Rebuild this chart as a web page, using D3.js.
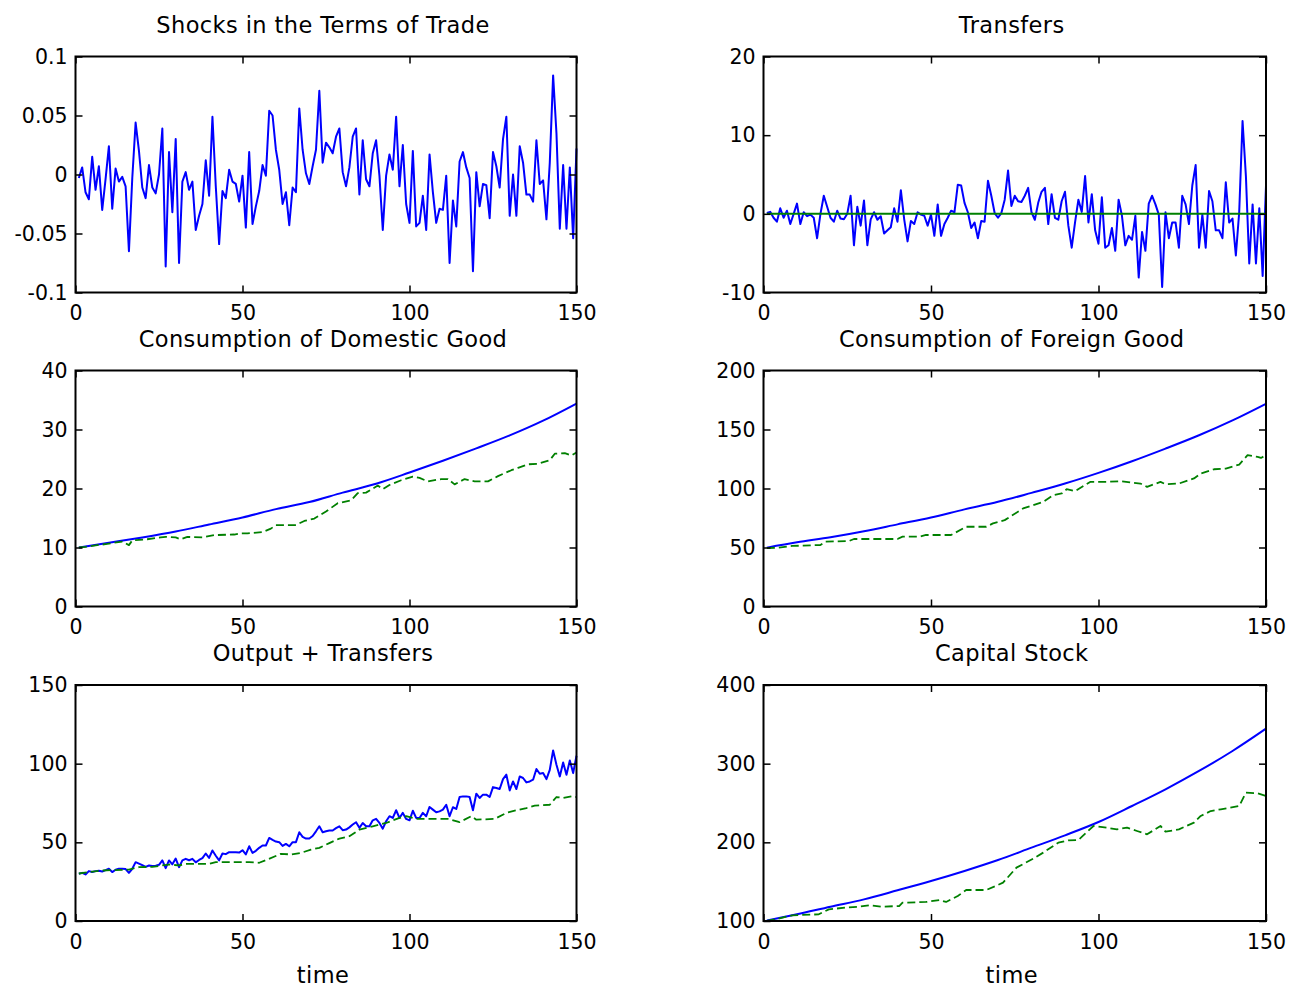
<!DOCTYPE html>
<html lang="en">
<head>
<meta charset="UTF-8">
<title>Terms of trade simulation</title>
<script src="https://cdnjs.cloudflare.com/ajax/libs/d3/7.8.5/d3.min.js"></script>
<style>
body{margin:0;background:#fff;}
svg text{font-family:"DejaVu Sans",sans-serif;fill:#000;}
.axis text{font-size:20.5px;}
.title, .xlabel{font-size:22.5px;letter-spacing:0.4px;}
.axis line{stroke:#000;stroke-width:1.5px;}
</style>
</head>
<body>
<svg id="chart" width="1291" height="990"></svg>
<script>
// shared x axis
var xTicks = [0, 50, 100, 150];
var xTickLabels = ['0', '50', '100', '150'];

// noisy series, one value per period t = 1..150
var shocks = [
  -0.003, 0.006, -0.015, -0.021, 0.015, -0.013, 0.007, -0.030, -0.004, 0.024,
  -0.029, 0.005, -0.006, -0.002, -0.010, -0.065, -0.003, 0.044, 0.020, -0.011,
  -0.020, 0.008, -0.011, -0.016, 0.000, 0.039, -0.078, 0.019, -0.032, 0.030,
  -0.075, -0.006, 0.002, -0.013, -0.006, -0.047, -0.035, -0.025, 0.012, -0.018,
  0.049, -0.010, -0.059, -0.014, -0.020, 0.004, -0.006, -0.008, -0.023, -0.001,
  -0.045, 0.019, -0.042, -0.027, -0.014, 0.008, -0.001, 0.054, 0.050, 0.021,
  0.004, -0.025, -0.015, -0.043, -0.011, -0.015, 0.056, 0.021, 0.001, -0.008,
  0.007, 0.021, 0.071, 0.010, 0.027, 0.023, 0.018, 0.032, 0.039, 0.002,
  -0.010, 0.006, 0.032, 0.039, -0.017, 0.029, -0.004, -0.010, 0.018, 0.029,
  -0.001, -0.047, -0.001, 0.017, 0.004, 0.049, -0.010, 0.025, -0.025, -0.041,
  0.020, -0.044, -0.041, -0.018, -0.047, 0.017, -0.015, -0.041, -0.029, -0.030,
  -0.001, -0.075, -0.022, -0.044, 0.011, 0.019, 0.006, -0.003, -0.082, 0.002,
  -0.027, -0.008, -0.009, -0.037, 0.019, 0.007, -0.011, 0.030, 0.049, -0.035,
  0.000, -0.035, 0.024, 0.010, -0.017, -0.017, -0.023, 0.029, -0.008, -0.005,
  -0.038, 0.010, 0.084, 0.035, -0.046, 0.008, -0.046, 0.006, -0.054, 0.022
];
var transfers = [
  0.1, 0.25, -0.5, -1.0, 0.7, -0.5, 0.4, -1.3, 0.0, 1.3,
  -1.3, 0.2, -0.3, -0.1, -0.5, -3.1, 0.0, 2.3, 0.9, -0.5,
  -1.0, 0.4, -0.6, -0.7, 0.0, 2.3, -4.0, 0.9, -1.5, 1.7,
  -4.0, -0.7, 0.2, -0.75, -0.3, -2.5, -2.1, -1.7, 0.7, -1.0,
  3.0, -0.7, -3.5, -0.9, -1.3, 0.2, -0.1, -0.25, -1.5, -0.1,
  -2.8, 1.2, -2.8, -1.3, -0.5, 0.4, 0.2, 3.7, 3.6, 1.4,
  0.2, -1.8, -1.1, -3.1, -0.9, -1.0, 4.2, 2.3, 0.1, -0.5,
  0.1, 1.8, 5.5, 1.0, 2.3, 1.6, 1.5, 2.3, 3.3, 0.2,
  -0.75, 1.4, 2.8, 3.3, -1.3, 2.5, -0.5, -0.75, 1.6, 2.8,
  -1.5, -4.3, -1.1, 1.8, 0.25, 4.8, -1.1, 2.5, -2.1, -3.8,
  2.1, -4.3, -4.0, -1.8, -4.7, 1.8, -0.25, -4.0, -2.8, -3.3,
  -0.25, -8.1, -2.3, -4.7, 1.3, 2.3, 1.2, -0.1, -9.3, 0.2,
  -3.1, -1.1, -1.1, -4.3, 2.3, 1.2, -1.3, 3.6, 6.2, -4.3,
  -0.1, -4.3, 2.9, 1.6, -2.1, -2.1, -3.1, 4.0, -1.1, -0.6,
  -5.3, 0.2, 11.8, 4.8, -6.3, 1.2, -6.3, 0.7, -7.9, 3.6
];
var outputTransfers = [
  30.0, 30.6, 29.6, 31.7, 31.1, 31.7, 32.0, 31.5, 32.3, 33.2,
  31.1, 32.6, 33.2, 33.2, 33.0, 30.6, 33.2, 37.4, 36.5, 35.5,
  34.4, 35.3, 34.9, 35.2, 35.7, 38.5, 33.6, 38.5, 36.0, 39.7,
  34.2, 38.5, 39.5, 38.6, 39.5, 37.3, 38.8, 40.0, 42.9, 40.1,
  44.8, 41.5, 38.5, 42.9, 42.5, 43.7, 43.7, 43.7, 43.5, 45.0,
  42.3, 47.5, 43.3, 44.6, 46.5, 48.0, 48.0, 52.8, 51.6, 50.5,
  50.1, 47.7, 49.0, 47.5, 50.1, 50.1, 56.4, 53.5, 52.4, 52.4,
  54.0, 57.0, 60.2, 56.4, 57.0, 57.5, 57.5, 59.0, 60.2, 57.7,
  58.1, 59.5, 61.3, 62.8, 59.2, 62.3, 60.2, 60.2, 64.0, 64.9,
  62.3, 58.7, 63.4, 66.6, 65.5, 70.4, 65.5, 68.7, 64.9, 64.0,
  70.1, 65.5, 65.5, 68.7, 66.6, 72.5, 70.8, 69.1, 69.7, 70.8,
  73.9, 66.6, 72.3, 71.2, 78.8, 79.2, 79.2, 78.8, 70.4, 80.9,
  78.2, 80.3, 80.3, 78.8, 85.1, 84.5, 83.9, 90.2, 93.0, 83.0,
  88.7, 83.9, 91.9, 90.9, 88.1, 88.7, 89.8, 96.6, 93.6, 94.0,
  90.2, 96.1, 108.4, 99.3, 91.9, 100.8, 93.0, 102.0, 94.0, 105.0
];
var periods = d3.range(1, 151);

// zero reference line in the transfers panel
var zeroT = [1, 150];
var zeroLine = [0, 0];

// smooth paths, read every 10 periods
var smoothT = [1, 10, 20, 30, 40, 50, 60, 70, 80, 90, 100, 110, 120, 130, 140, 150];
var consDomestic = [10.0, 10.8, 11.7, 12.7, 13.9, 15.1, 16.5, 17.7, 19.3, 20.8, 22.7, 24.7, 26.8, 29.0, 31.5, 34.4];
var consForeign = [49.9, 54.4, 58.6, 63.7, 69.6, 75.5, 82.3, 88.7, 96.3, 104.2, 113.2, 123.1, 133.8, 145.1, 157.7, 171.8];
var capital = [100.5, 108.5, 118.2, 127.5, 139.0, 150.8, 163.6, 177.5, 193.2, 208.9, 225.8, 246.2, 267.4, 290.7, 316.1, 344.5];

// dashed paths (read at their corners)
var consDomAltT = [1, 3, 6.5, 9.5, 11.5, 14, 16, 17, 21.5, 25.5, 27, 30, 31.5, 33.5, 38, 41.5, 47.5, 49.5, 51.5, 56,
  58.5, 60, 66, 68.5, 71.5, 75, 78.5, 82.5, 84.5, 87, 90.5, 92, 94, 97.5, 101, 103, 105.5, 109.5, 111.5, 113.5,
  116.5, 119.5, 123.5, 126.5, 130.5, 132.5, 135.5, 138.5, 142, 143.5, 146.5, 148.5, 150];
var consDomAlt = [10.0, 10.1, 10.4, 10.6, 10.8, 11.0, 10.4, 11.2, 11.4, 11.7, 11.8, 11.7, 11.4, 11.8, 11.7, 12.1, 12.2, 12.4, 12.4, 12.6,
  13.2, 13.8, 13.8, 14.5, 14.9, 16.1, 17.5, 18.0, 19.2, 19.3, 20.5, 19.9, 20.6, 21.4, 22.0, 21.8, 21.2, 21.6, 21.6, 20.7,
  21.6, 21.2, 21.2, 22.1, 23.1, 23.5, 24.1, 24.2, 24.8, 25.9, 26.0, 25.6, 26.1];

var consForAltT = [1, 4.5, 8.5, 17, 18.5, 25.5, 27, 40, 41.5, 46.5, 48.5, 56, 60.5, 66.5, 68.5, 72, 77.5, 83.5, 86.5, 89,
  90.5, 93, 97.5, 102.5, 106.5, 112.5, 114.5, 118.5, 120, 124, 128.5, 130.5, 134.5, 138, 142, 144.5, 147.5, 148.5, 150];
var consForAlt = [49.5, 49.9, 51.3, 52.1, 54.9, 55.5, 57.2, 57.2, 59.2, 59.2, 60.6, 60.6, 67.6, 67.6, 70.4, 73.2, 83.1, 88.7, 94.4, 95.8,
  99.4, 97.7, 105.6, 105.6, 106.2, 104.2, 101.4, 105.6, 103.7, 104.2, 108.5, 112.7, 116.3, 116.9, 120.3, 128.2, 126.8, 125.9, 128.2];

var outputAltT = [1, 8, 16, 19, 23, 28, 31, 33, 40, 42, 52, 55, 57.5, 61.5, 64.5, 67.5, 70.5, 73, 76, 79,
  82, 85, 89, 93, 97, 99, 102, 106, 111.5, 115, 118.5, 120, 125.5, 129, 131.5, 135, 137.5, 142, 144, 146, 148.5, 150];
var outputAlt = [30.2, 32.1, 32.7, 34.2, 34.4, 35.9, 35.3, 36.3, 36.3, 37.4, 37.4, 37.0, 39.1, 42.7, 42.3, 43.3, 45.4, 46.5, 49.5, 52.4,
  53.9, 58.1, 60.2, 62.3, 65.5, 66.6, 64.9, 64.9, 64.9, 62.8, 66.6, 64.4, 64.9, 68.7, 70.1, 71.8, 73.3, 73.9, 78.8, 78.2, 79.2, 78.8];

var capitalAltT = [1, 4.5, 8.5, 16.5, 19.5, 24.5, 28.5, 31.5, 35, 40.5, 41.5, 48.5, 52.5, 54.5, 58, 60.5, 66.5, 71.5, 75.5, 80.5,
  83.5, 88, 91, 94, 98.5, 102.5, 105.5, 108.5, 111.5, 114.5, 118.5, 120, 124, 128.5, 130.5, 133.5, 136.5, 142, 144, 147.5, 150];
var capitalAlt = [100, 103, 107.2, 108.5, 114.8, 117, 118.2, 120, 118.2, 119, 123.3, 124.2, 126.7, 124.2, 131.8, 139.4, 139.4, 148.7, 167.8, 179.2,
  186.9, 199.6, 202.5, 203, 220.8, 218.6, 216.5, 218.6, 214.4, 210.2, 220.8, 213.6, 216.5, 225, 233.5, 239.8, 242, 246.2, 263.1, 262.3, 258.9];

// y axis ticks per panel
var shockTicks = [-0.1, -0.05, 0, 0.05, 0.1];
var shockLabels = ['-0.1', '-0.05', '0', '0.05', '0.1'];
var transferTicks = [-10, 0, 10, 20];
var transferLabels = ['-10', '0', '10', '20'];
var domTicks = [0, 10, 20, 30, 40];
var forTicks = [0, 50, 100, 150, 200];
var outTicks = [0, 50, 100, 150];
var capTicks = [100, 200, 300, 400];

var BLUE = '#0000ff', GREEN = '#008000';
var plotH = 236;
var cols = [{x: 75.5, w: 501}, {x: 763.5, w: 502.5}];
var rows = [56.5, 370.5, 685];

var svg = d3.select('#chart');

function labelsOf(ticks) { return ticks.map(String); }

var panels = [
  {col: 0, row: 0, title: 'Shocks in the Terms of Trade', y: [-0.1, 0.1], ticks: shockTicks, labels: shockLabels,
    series: [{t: periods, v: shocks, color: BLUE}]},
  {col: 1, row: 0, title: 'Transfers', y: [-10, 20], ticks: transferTicks, labels: transferLabels,
    series: [{t: periods, v: transfers, color: BLUE}, {t: zeroT, v: zeroLine, color: GREEN}]},
  {col: 0, row: 1, title: 'Consumption of Domestic Good', y: [0, 40], ticks: domTicks, labels: labelsOf(domTicks),
    series: [{t: smoothT, v: consDomestic, color: BLUE, smooth: true}, {t: consDomAltT, v: consDomAlt, color: GREEN, dashed: true}]},
  {col: 1, row: 1, title: 'Consumption of Foreign Good', y: [0, 200], ticks: forTicks, labels: labelsOf(forTicks),
    series: [{t: smoothT, v: consForeign, color: BLUE, smooth: true}, {t: consForAltT, v: consForAlt, color: GREEN, dashed: true}]},
  {col: 0, row: 2, title: 'Output + Transfers', y: [0, 150], ticks: outTicks, labels: labelsOf(outTicks), xlabel: 'time',
    series: [{t: periods, v: outputTransfers, color: BLUE}, {t: outputAltT, v: outputAlt, color: GREEN, dashed: true}]},
  {col: 1, row: 2, title: 'Capital Stock', y: [100, 400], ticks: capTicks, labels: labelsOf(capTicks), xlabel: 'time',
    series: [{t: smoothT, v: capital, color: BLUE, smooth: true}, {t: capitalAltT, v: capitalAlt, color: GREEN, dashed: true}]}
];

panels.forEach(function (p) {
  var c = cols[p.col];
  var g = svg.append('g').attr('transform', 'translate(' + c.x + ',' + rows[p.row] + ')');
  var x = d3.scaleLinear().domain([0, 150]).range([0, c.w]);
  var y = d3.scaleLinear().domain(p.y).range([plotH, 0]);

  p.series.forEach(function (s) {
    var line = d3.line()
      .x(function (d) { return x(d[0]); })
      .y(function (d) { return y(d[1]); })
      .curve(s.smooth ? d3.curveMonotoneX : d3.curveLinear);
    g.append('path')
      .datum(d3.zip(s.t, s.v))
      .attr('d', line)
      .attr('fill', 'none')
      .attr('stroke', s.color)
      .attr('stroke-width', s.dashed ? 1.8 : 2)
      .attr('stroke-dasharray', s.dashed ? '8,4' : null)
      .attr('stroke-linejoin', 'round');
  });

  // inward ticks on all four sides, labels only bottom and left
  g.append('g').attr('class', 'axis').attr('transform', 'translate(0,' + plotH + ')')
    .call(d3.axisBottom(x).tickValues(xTicks).tickFormat(function (d, i) { return xTickLabels[i]; })
      .tickSizeInner(-7).tickSizeOuter(0).tickPadding(13));
  g.append('g').attr('class', 'axis')
    .call(d3.axisTop(x).tickValues(xTicks).tickFormat('').tickSizeInner(-7).tickSizeOuter(0));
  g.append('g').attr('class', 'axis')
    .call(d3.axisLeft(y).tickValues(p.ticks).tickFormat(function (d, i) { return p.labels[i]; })
      .tickSizeInner(-7).tickSizeOuter(0).tickPadding(8));
  g.append('g').attr('class', 'axis').attr('transform', 'translate(' + c.w + ',0)')
    .call(d3.axisRight(y).tickValues(p.ticks).tickFormat('').tickSizeInner(-7).tickSizeOuter(0));
  g.selectAll('.axis .domain').remove();

  g.append('rect')
    .attr('width', c.w).attr('height', plotH)
    .attr('fill', 'none').attr('stroke', '#000').attr('stroke-width', 2);

  g.append('text').attr('class', 'title')
    .attr('x', c.w / 2 - 3).attr('y', -24)
    .attr('text-anchor', 'middle')
    .text(p.title);

  if (p.xlabel) {
    g.append('text').attr('class', 'xlabel')
      .attr('x', c.w / 2 - 3).attr('y', plotH + 62)
      .attr('text-anchor', 'middle')
      .text(p.xlabel);
  }
});
</script>
</body>
</html>
